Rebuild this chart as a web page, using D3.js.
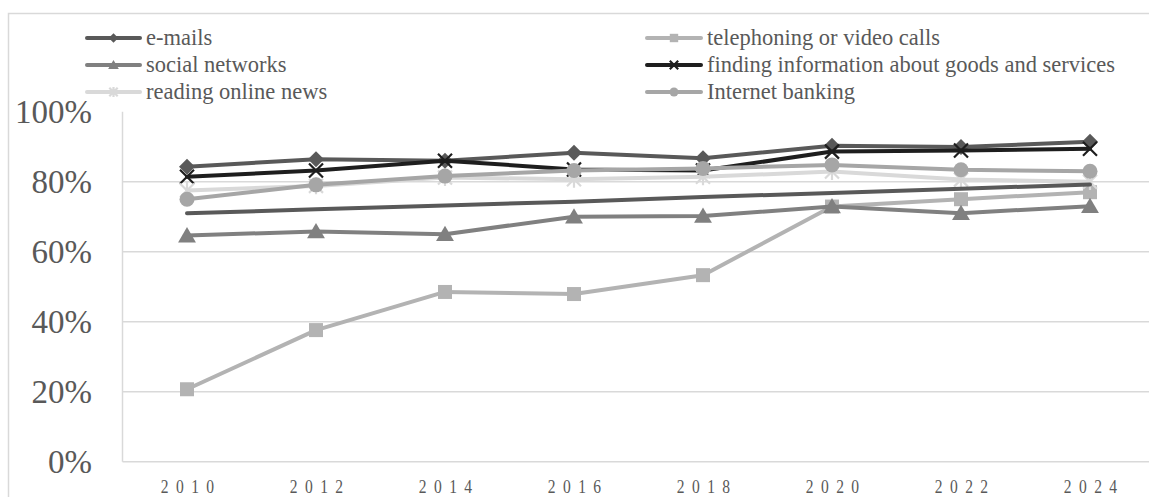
<!DOCTYPE html>
<html>
<head>
<meta charset="utf-8">
<script src="https://cdn.jsdelivr.net/npm/d3@7"></script>
<style>
  html, body { margin: 0; padding: 0; background: #ffffff; overflow: hidden; }
  svg { display: block; }
  text { font-family: "Liberation Serif", "DejaVu Serif", serif; fill: #595959; }
</style>
</head>
<body>
<svg id="chart" width="1149" height="497"></svg>
<script>
// Survey shares (%) of internet users by activity, 2010–2024
const years = ["2010", "2012", "2014", "2016", "2018", "2020", "2022", "2024"];
const yTicks = [0, 20, 40, 60, 80, 100];

const emails          = [84.3, 86.4, 86.0, 88.3, 86.7, 90.3, 89.9, 91.4];
const telephoning     = [20.7, 37.6, 48.5, 47.9, 53.3, 72.9, 75.0, 77.0];
const socialNetworks  = [64.6, 65.8, 65.0, 70.0, 70.2, 72.9, 71.0, 73.0];
const findingInfo     = [81.4, 83.2, 86.0, 83.5, 83.2, 88.6, 88.9, 89.4];
const readingNews     = [77.5, 78.8, 81.2, 80.7, 81.4, 82.9, 80.6, 80.0];
const internetBanking = [75.0, 79.1, 81.6, 83.2, 83.8, 84.8, 83.4, 83.0];
const trendValues     = [71.0, 72.1, 73.2, 74.3, 75.6, 76.8, 78.0, 79.2];

const seriesNames = [
  "e-mails",
  "telephoning or video calls",
  "social networks",
  "finding information about goods and services",
  "reading online news",
  "Internet banking"
];

const series = [
  { name: seriesNames[0], values: emails,          color: "#595959", marker: "diamond" },
  { name: seriesNames[1], values: telephoning,     color: "#b3b3b3", marker: "square" },
  { name: seriesNames[2], values: socialNetworks,  color: "#808080", marker: "triangle" },
  { name: seriesNames[3], values: findingInfo,     color: "#1e1e1e", marker: "x" },
  { name: seriesNames[4], values: readingNews,     color: "#d9d9d9", marker: "star" },
  { name: seriesNames[5], values: internetBanking, color: "#a6a6a6", marker: "circle" }
];

const svg = d3.select("#chart");

// outer chart frame
svg.append("rect")
  .attr("x", 8.5).attr("y", 13.5)
  .attr("width", 1200).attr("height", 600)
  .attr("fill", "none").attr("stroke", "#d9d9d9").attr("stroke-width", 1.5);

const plot = { left: 122.5, right: 1154.5, top: 111.7, bottom: 461.7 };

const x = d3.scalePoint().domain(years).range([plot.left, plot.right]).padding(0.5);
const y = d3.scaleLinear().domain([0, 100]).range([plot.bottom, plot.top]);

// horizontal gridlines
svg.append("g")
  .selectAll("line")
  .data(yTicks.filter(t => t > 0 && t < 100))
  .join("line")
  .attr("x1", plot.left).attr("x2", 1149)
  .attr("y1", d => y(d)).attr("y2", d => y(d))
  .attr("stroke", "#d9d9d9").attr("stroke-width", 1.5);

// axis lines
svg.append("line")
  .attr("x1", plot.left).attr("x2", plot.left)
  .attr("y1", plot.top).attr("y2", plot.bottom)
  .attr("stroke", "#d9d9d9").attr("stroke-width", 1.5);
svg.append("line")
  .attr("x1", plot.left).attr("x2", 1149)
  .attr("y1", plot.bottom).attr("y2", plot.bottom)
  .attr("stroke", "#d9d9d9").attr("stroke-width", 1.5);

// y axis labels
const yAxis = d3.axisLeft(y).tickValues(yTicks).tickSize(0).tickPadding(0)
  .tickFormat(d => d + "%");
const yg = svg.append("g").attr("transform", `translate(92,0)`).call(yAxis);
yg.select(".domain").remove();
yg.selectAll("text")
  .attr("font-size", 33).attr("fill", "#595959")
  .attr("font-family", "Liberation Serif, serif")
  .attr("dy", "0.34em");

// x axis labels (narrow, widely tracked digits)
const xSpacing = 9;
const xAxis = d3.axisBottom(x).tickSize(0).tickPadding(0);
const xg = svg.append("g").attr("transform", `translate(0,${plot.bottom})`).call(xAxis);
xg.select(".domain").remove();
xg.selectAll("text")
  .attr("font-size", 19).attr("fill", "#595959")
  .attr("font-family", "Liberation Serif, serif")
  .attr("letter-spacing", xSpacing + "px")
  .attr("dx", (xSpacing / 2) + "px")
  .attr("y", 0).attr("dy", 0)
  .attr("transform", "translate(0,31) scale(0.82,1)");

// marker shapes
function markerPath(type, s) {
  switch (type) {
    case "diamond":  return `M0,${-s}L${s},0L0,${s}L${-s},0Z`;
    case "square":   return `M${-s},${-s}H${s}V${s}H${-s}Z`;
    case "triangle": return `M0,${-s}L${s * 1.05},${s * 0.8}L${-s * 1.05},${s * 0.8}Z`;
    case "x":        return `M${-s},${-s}L${s},${s}M${s},${-s}L${-s},${s}`;
    case "star":     return `M${-s},${-s}L${s},${s}M${s},${-s}L${-s},${s}M0,${-s * 1.2}V${s * 1.2}`;
    default:         return null;
  }
}

function drawMarker(g, type, color, cx, cy, s) {
  if (type === "circle") {
    g.append("circle").attr("cx", cx).attr("cy", cy).attr("r", s).attr("fill", color);
  } else if (type === "x" || type === "star") {
    g.append("path").attr("d", markerPath(type, s))
      .attr("transform", `translate(${cx},${cy})`)
      .attr("fill", "none").attr("stroke", color).attr("stroke-width", 2.2);
  } else {
    g.append("path").attr("d", markerPath(type, s))
      .attr("transform", `translate(${cx},${cy})`)
      .attr("fill", color);
  }
}

const markerSize = { diamond: 8, square: 7, triangle: 8.5, x: 7, star: 7, circle: 7.5 };

const line = d3.line().x((d, i) => x(years[i])).y(d => y(d));

const seriesG = svg.append("g");
series.forEach(s => {
  const g = seriesG.append("g");
  g.append("path")
    .attr("d", line(s.values))
    .attr("fill", "none").attr("stroke", s.color)
    .attr("stroke-width", 4).attr("stroke-linejoin", "round").attr("stroke-linecap", "round");
  s.values.forEach((v, i) => drawMarker(g, s.marker, s.color, x(years[i]), y(v), markerSize[s.marker]));
});

// linear trend
svg.append("path")
  .attr("d", line(trendValues))
  .attr("fill", "none").attr("stroke", "#595959")
  .attr("stroke-width", 4).attr("stroke-linecap", "round");

// legend
const legendCols = [
  { x0: 87, x1: 140, tx: 146 },
  { x0: 647, x1: 701, tx: 707 }
];
const legendRows = [38, 65, 92];
const legend = svg.append("g");
series.forEach((s, i) => {
  const col = legendCols[i % 2];
  const ry = legendRows[Math.floor(i / 2)];
  const g = legend.append("g");
  g.append("line")
    .attr("x1", col.x0).attr("x2", col.x1).attr("y1", ry).attr("y2", ry)
    .attr("stroke", s.color).attr("stroke-width", 4).attr("stroke-linecap", "round");
  drawMarker(g, s.marker, s.color, (col.x0 + col.x1) / 2, ry, markerSize[s.marker] * 0.6);
  g.append("text")
    .attr("x", col.tx).attr("y", ry).attr("dy", "0.33em")
    .attr("font-size", 22.5).attr("fill", "#595959")
    .text(s.name);
});
</script>
</body>
</html>
